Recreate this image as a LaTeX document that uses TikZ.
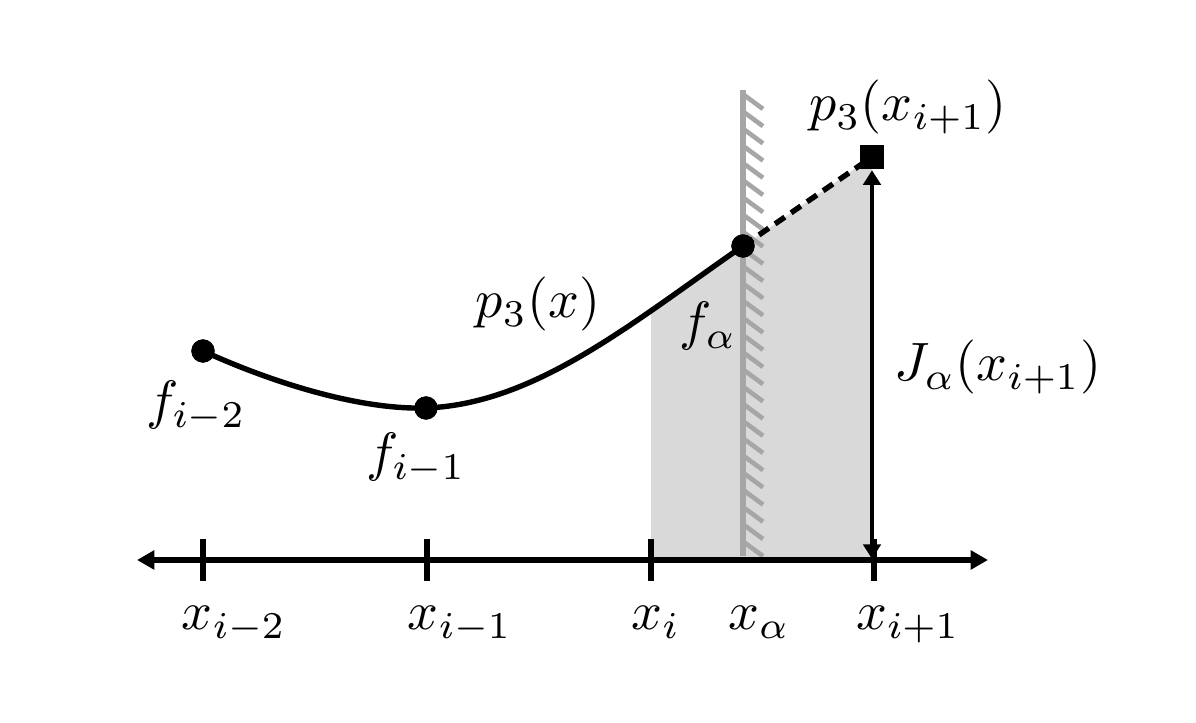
\documentclass[tikz,border=0pt]{standalone}
\usetikzlibrary{arrows.meta}
\begin{document}
\begin{tikzpicture}[x=0.185pt,y=-0.185pt,
  dotnode/.style={circle,fill=black,inner sep=0pt,minimum size=4.3pt},
  sqnode/.style={rectangle,fill=black,inner sep=0pt,minimum size=4.5pt},
  lbl/.style={anchor=base,inner sep=0pt},
  axisline/.style={line width=1.15pt,{Triangle[length=3.2pt,width=3.4pt]}-{Triangle[length=3.2pt,width=3.4pt]}},
  tickline/.style={line width=1.1pt},
  curveline/.style={line width=1.0pt},
  wallline/.style={line width=1.0pt,draw=black!35},
  hatchline/.style={line width=0.85pt,draw=black!35},
  jarrow/.style={line width=0.9pt,{Triangle[length=2.7pt,width=3.2pt]}-{Triangle[length=2.7pt,width=3.2pt]}},
  dashline/.style={line width=1.0pt,dash pattern=on 2.2pt off 1.4pt}]
\useasboundingbox (0,0) rectangle (1196,723);
% gray region
\begin{scope}
  \clip (651,0) rectangle (872,560);
  \fill[black!15] (426,408) .. controls (536,404) and (633,322) .. (743,246) -- (872,157) -- (872,560) -- (426,560) -- cycle;
\end{scope}
% wall
\draw[wallline] (743,90) -- (743,556);
\foreach \i in {0,...,26}{
  \draw[hatchline] (744,95+\i*17.2) -- (763,109+\i*17.2);
}
% nodes
\node[dotnode] (fm2) at (203,351) {};
\node[dotnode] (fm1) at (426,408) {};
\node[dotnode] (fa) at (743,246) {};
\node[sqnode] (sq) at (872,157) {};
\coordinate (axL) at (137,560);
\coordinate (axR) at (988,560);
\coordinate (jb) at (872,559);
% axis
\draw[axisline] (axL) -- (axR);
\foreach \x in {203,427,651,874}{
  \draw[tickline] (\x,539) -- (\x,581);
}
% curve
\draw[curveline] (fm2.center) .. controls (273,383) and (360,410) .. (fm1.center)
   .. controls (536,404) and (633,322) .. (fa.center);
\draw[dashline] (fa.center) -- (sq.center);
\draw[jarrow] (sq.south) -- (jb);
% redraw dots on top
\node[dotnode] at (203,351) {};
\node[dotnode] at (426,408) {};
\node[dotnode] at (743,246) {};
\node[sqnode] at (872,157) {};
% labels
\node[lbl] (lxm2) at (234,630) {$x_{i-2}$};
\node[lbl] (lxm1) at (460,630) {$x_{i-1}$};
\node[lbl] (lxi) at (656,630) {$x_{i}$};
\node[lbl] (lxa) at (759,630) {$x_{\alpha}$};
\node[lbl] (lxp1) at (908,630) {$x_{i+1}$};
\node[lbl] (lfm2) at (196,419) {$f_{i-2}$};
\node[lbl] (lfm1) at (416,471) {$f_{i-1}$};
\node[lbl] (lfa) at (708,340) {$f_{\alpha}$};
\node[lbl] (lp3) at (538,318) {$p_3(x)$};
\node[lbl] (lp3x) at (908,121) {$p_3(x_{i+1})$};
\node[lbl] (lJ) at (998,381) {$J_{\alpha}(x_{i+1})$};
\end{tikzpicture}
\end{document}
